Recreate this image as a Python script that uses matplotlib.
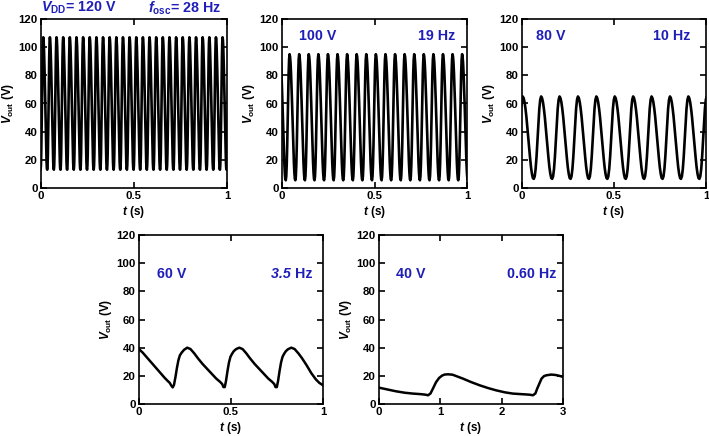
import numpy as np
import matplotlib
matplotlib.use('Agg')
import matplotlib.pyplot as plt

plt.rcParams['font.family'] = ['Liberation Sans', 'DejaVu Sans']
plt.rcParams['font.weight'] = 'bold'
plt.rcParams['axes.labelweight'] = 'bold'
plt.rcParams['mathtext.fontset'] = 'custom'
plt.rcParams['mathtext.rm'] = 'Liberation Sans:bold'
plt.rcParams['mathtext.it'] = 'Liberation Sans:italic:bold'
plt.rcParams['mathtext.bf'] = 'Liberation Sans:bold'

BLUE = '#1f1fb8'

# periodic panels (VDD = 120, 100, 80 V): frequency, min/max, time of first peak
vdd_labels = ['100 V', '80 V']
freq_labels = ['19 Hz', '10 Hz']
freqs = [28.0, 19.3, 10.0]
v_min = [13, 5.5, 6.5]
v_max = [107, 95, 65]
first_peak = [0.012, 0.041, 0.004]

# one cycle, starting at the peak (fraction of period, normalised level)
cycle_phase = [0.0, 0.05, 0.1, 0.15, 0.2, 0.25, 0.3, 0.35, 0.4, 0.45, 0.5,
               0.55, 0.6, 0.65, 0.7, 0.75, 0.8, 0.85, 0.9, 0.95]
cycle_level = [1.0, 0.98, 0.93, 0.85, 0.75, 0.63, 0.5, 0.37, 0.25, 0.14, 0.06,
               0.01, 0.0, 0.03, 0.12, 0.27, 0.46, 0.67, 0.85, 0.96]

# 60 V, 3.5 Hz
t_60 = [0.0, 0.02, 0.04, 0.06, 0.08, 0.1, 0.12, 0.14, 0.155, 0.167, 0.176,
        0.183, 0.19, 0.198, 0.206, 0.214, 0.222, 0.232, 0.245, 0.262, 0.28,
        0.3, 0.32, 0.345, 0.37, 0.395, 0.42, 0.44, 0.452, 0.459,
        0.466, 0.473, 0.481, 0.489, 0.497, 0.505, 0.515, 0.528, 0.545, 0.563,
        0.583, 0.603, 0.628, 0.653, 0.678, 0.703, 0.723, 0.735, 0.742,
        0.749, 0.756, 0.764, 0.772, 0.78, 0.788, 0.798, 0.811, 0.828, 0.846,
        0.866, 0.886, 0.911, 0.936, 0.961, 0.98, 1.0]
v_60 = [39.0, 36.5, 33.5, 30.5, 27.5, 24.5, 21.5, 18.5, 16.5, 15.0, 13.0,
        11.8, 13.5, 19.0, 25.5, 31.0, 34.5, 36.5, 38.5, 40.0, 39.0,
        36.0, 32.5, 28.5, 25.0, 21.5, 18.0, 15.8, 14.2, 12.0,
        12.0, 16.5, 23.5, 29.5, 33.5, 35.5, 37.5, 39.0, 40.0, 39.0,
        36.0, 32.5, 28.5, 25.0, 21.5, 18.0, 15.8, 14.2, 12.0,
        12.0, 16.5, 23.5, 29.5, 33.5, 35.5, 37.5, 39.0, 40.0, 39.0,
        36.0, 32.5, 27.5, 22.0, 17.5, 15.0, 13.3]

# 40 V, 0.60 Hz
t_40 = [0.0, 0.15, 0.28, 0.42, 0.55, 0.68, 0.76, 0.8, 0.84, 0.88, 0.93, 0.98,
        1.03, 1.07, 1.125, 1.2, 1.37, 1.5, 1.64, 1.78, 1.91, 2.05, 2.18, 2.32,
        2.46, 2.51, 2.55, 2.58, 2.62, 2.65, 2.69, 2.73, 2.81, 2.88, 2.95, 3.0]
v_40 = [11.6, 10.2, 9.0, 8.0, 7.4, 7.0, 6.6, 6.2, 7.5, 11.0, 15.5, 18.5,
        20.2, 20.9, 21.1, 20.8, 18.0, 15.6, 13.3, 11.3, 9.7, 8.3, 7.4, 7.0,
        6.6, 6.2, 7.5, 11.0, 15.0, 18.0, 19.8, 20.4, 20.9, 20.6, 19.9, 19.2]

W, H = 709, 436
# axes boxes in pixels: left, top, right, bottom
boxes = [(41, 19, 227, 188), (282, 19, 467, 188), (522, 19, 706, 188),
         (139, 235, 323, 404), (379, 235, 563, 404)]

fig = plt.figure(figsize=(W / 100, H / 100), dpi=100)
axes = []
for l, t, r, b in boxes:
    ax = fig.add_axes([l / W, 1 - b / H, (r - l) / W, (b - t) / H])
    axes.append(ax)

for i in range(3):
    ax = axes[i]
    period = 1.0 / freqs[i]
    start = first_peak[i] - period
    n_cycles = int(np.ceil((1.0 - start) / period)) + 1
    tt = []
    vv = []
    for k in range(n_cycles):
        for ph, lv in zip(cycle_phase, cycle_level):
            tt.append(start + (k + ph) * period)
            vv.append(v_min[i] + lv * (v_max[i] - v_min[i]))
    ax.plot(tt, vv, color='black', lw=1.9)
    ax.set_xlim(0, 1)
    ax.set_xticks([0, 0.5, 1])
    ax.set_xticklabels(['0', '0.5', '1'])

axes[3].plot(t_60, v_60, color='black', lw=1.8)
axes[3].set_xlim(0, 1)
axes[3].set_xticks([0, 0.5, 1])
axes[3].set_xticklabels(['0', '0.5', '1'])
axes[4].plot(t_40, v_40, color='black', lw=1.8)
axes[4].set_xlim(0, 3)
axes[4].set_xticks([0, 1, 2, 3])

for ax in axes:
    ax.set_ylim(0, 120)
    ax.set_yticks(range(0, 121, 20))
    ax.tick_params(direction='in', top=True, right=True, length=4, width=1.2,
                   labelsize=8.2, pad=2.5)
    for s in ax.spines.values():
        s.set_linewidth(1.2)
    ax.set_xlabel(r'$t$ (s)', fontsize=8.5, labelpad=1.5)
    ax.set_ylabel(r'$V_{\rm out}$ (V)', fontsize=8.5, labelpad=1.5)

# labels
fs = 10.3
fig.text(41 / W, 1 - 8 / H, r'$V_{\rm DD}$= 120 V', color=BLUE, fontsize=fs,
         ha='left', va='center')
fig.text(221 / W, 1 - 8 / H, r'$f_{\rm osc}$= 28 Hz', color=BLUE, fontsize=fs,
         ha='right', va='center')

labels = [(1, 0.092, 0.935, 0.90, vdd_labels[0], freq_labels[0]),
          (2, 0.075, 0.917, 0.90, vdd_labels[1], freq_labels[1]),
          (3, 0.096, 0.942, 0.767, '60 V', 'Hz'),
          (4, 0.09, 0.962, 0.767, '40 V', '0.60 Hz')]
for i, xl, xr, y, left_txt, right_txt in labels:
    axes[i].text(xl, y, left_txt, transform=axes[i].transAxes, color=BLUE,
                 fontsize=fs, ha='left', va='center')
    rt = axes[i].text(xr, y, right_txt, transform=axes[i].transAxes,
                      color=BLUE, fontsize=fs, ha='right', va='center')
    if i == 3:
        # italic number in front of "Hz"
        axes[i].annotate('3.5 ', xy=(0, 0.5), xycoords=rt, color=BLUE,
                         fontsize=fs, style='italic', ha='right', va='center')

fig.savefig('out.png', dpi=100)
